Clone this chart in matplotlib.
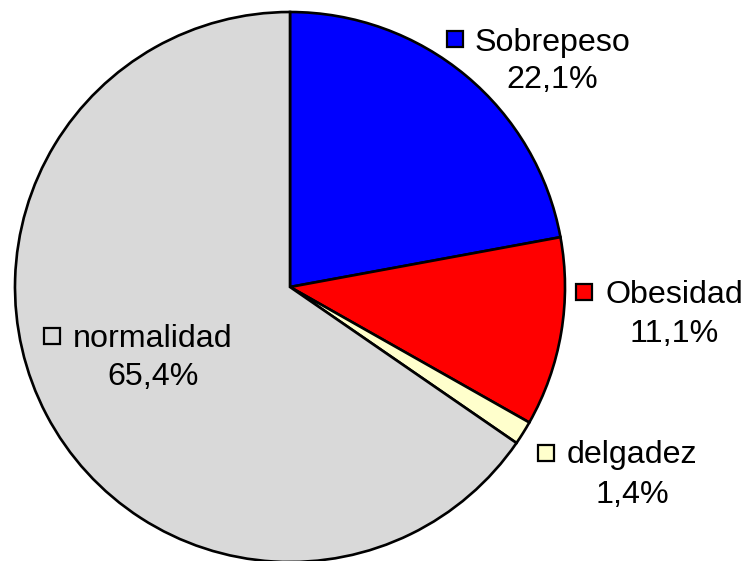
import matplotlib
matplotlib.use("Agg")
import matplotlib.pyplot as plt

categories = ["Sobrepeso", "Obesidad", "delgadez", "normalidad"]
values = [22.1, 11.1, 1.4, 65.4]
pct_labels = ["22,1%", "11,1%", "1,4%", "65,4%"]
colors = ["#0000FF", "#FF0000", "#FFFFCC", "#D9D9D9"]

# layout (pixel coordinates, y from top)
W, H = 748, 561
center = (290, 287)
radius = 275
text_x = [552, 674, 632, 153]
base1 = [51, 303, 463, 347]
base2 = [88, 342, 503, 385]
square_xy = [(455, 39), (584, 292), (546, 453), (52, 336)]

plt.rcParams['font.family'] = ['Liberation Sans', 'DejaVu Sans']
fig = plt.figure(figsize=(W / 100, H / 100), dpi=100)
ax = fig.add_axes([0, 0, 1, 1])

ax.pie(values, colors=colors, startangle=90, counterclock=False,
       center=(center[0], H - center[1]), radius=radius,
       wedgeprops=dict(edgecolor='black', linewidth=1.9), frame=True)
ax.set_xlim(0, W)
ax.set_ylim(0, H)
ax.set_aspect('equal')
ax.axis('off')

fs = 23.2
for i, cat in enumerate(categories):
    ax.text(text_x[i], H - base1[i], cat, ha='center', va='baseline', fontsize=fs, color='black')
    ax.text(text_x[i], H - base2[i], pct_labels[i], ha='center', va='baseline', fontsize=fs, color='black')
    sx, sy = square_xy[i]
    ax.plot([sx], [H - sy], marker='s', markersize=11.5, markerfacecolor=colors[i],
            markeredgecolor='black', markeredgewidth=1.6, linestyle='none')

fig.savefig("out.png", dpi=100)
